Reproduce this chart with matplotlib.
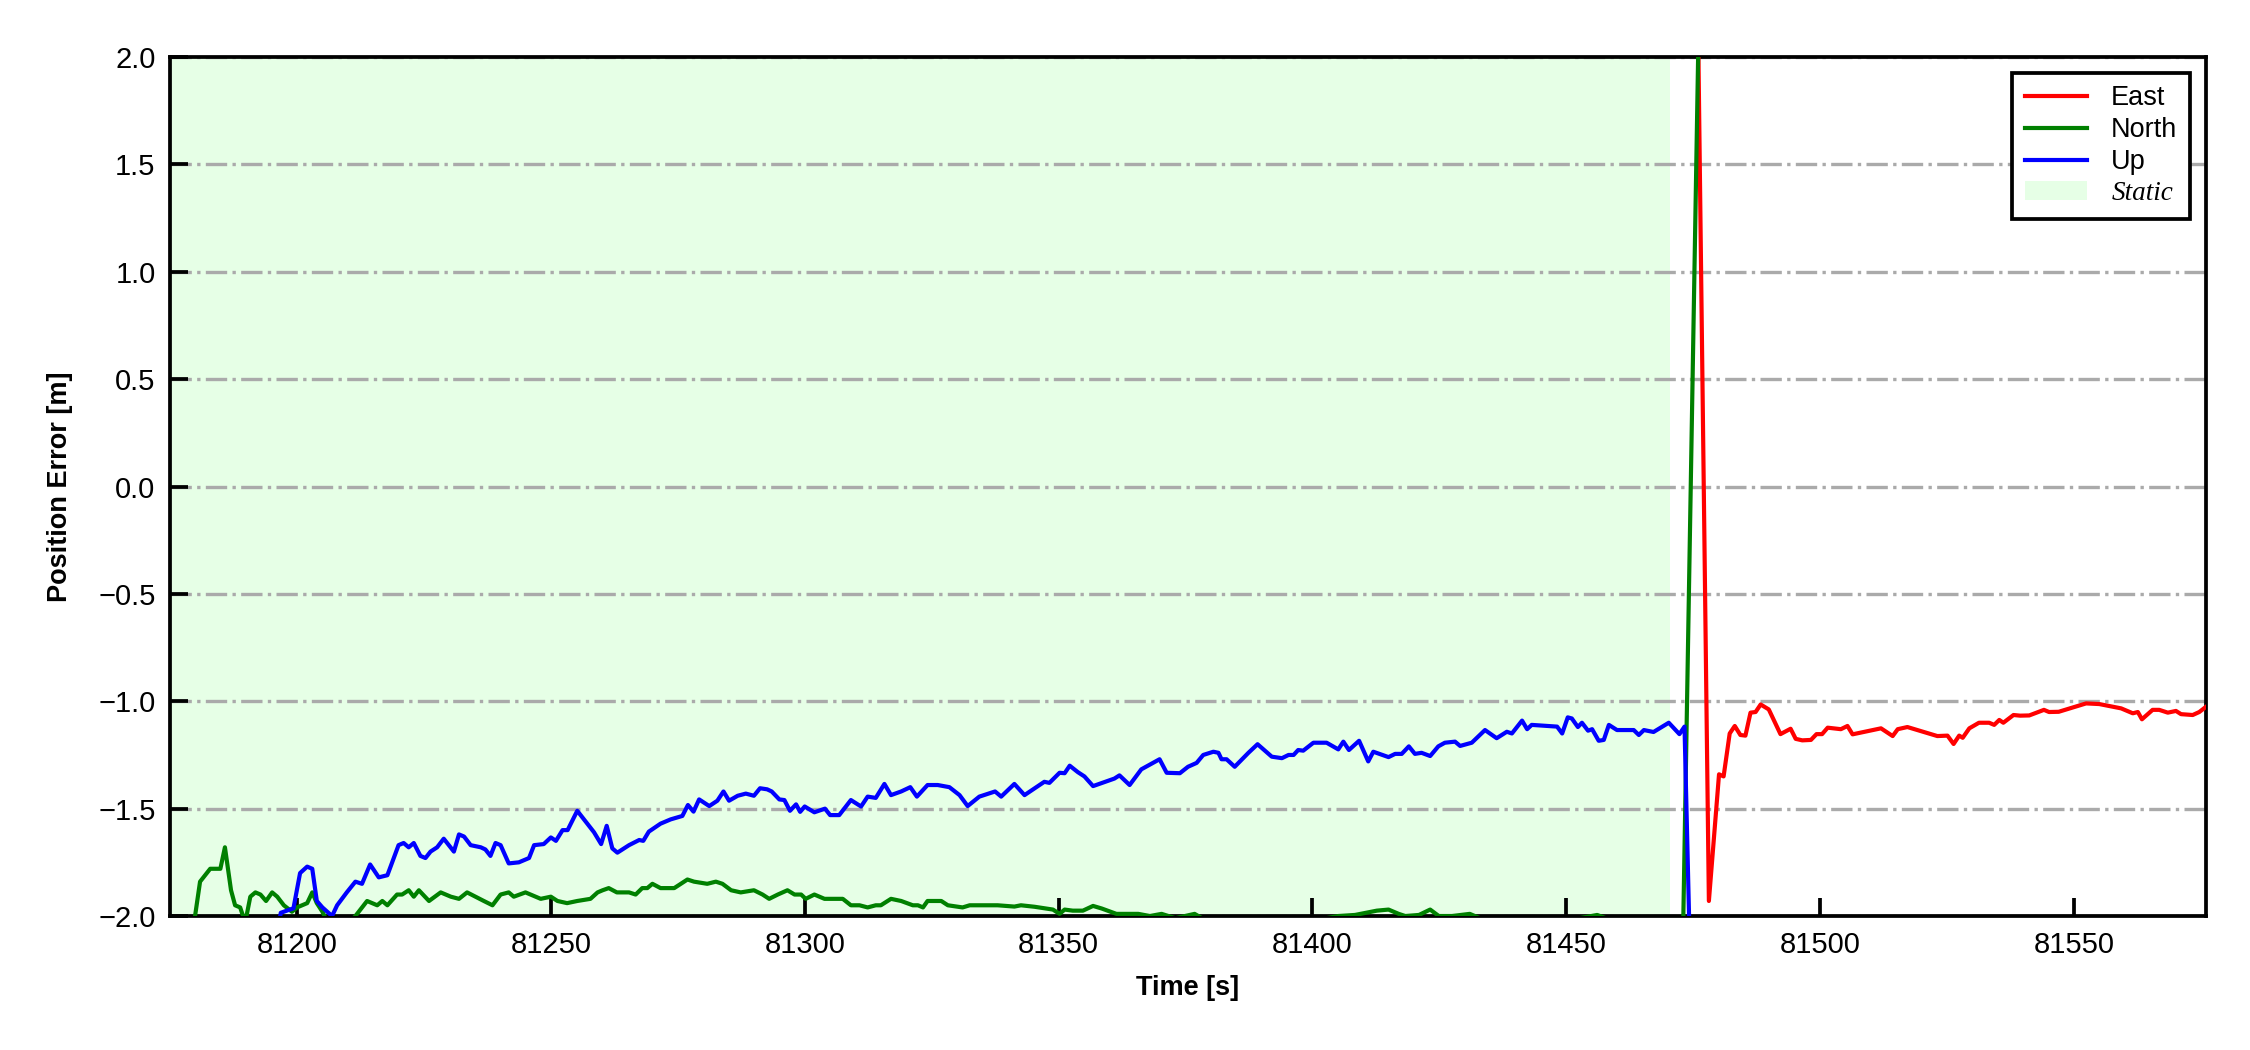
import matplotlib
matplotlib.use("Agg")
import matplotlib.pyplot as plt
from matplotlib.patches import Patch

plt.rcParams['font.family'] = ['Liberation Sans', 'DejaVu Sans']

# ---------------- data ----------------
north_t = [81179.3, 81180.9, 81182.9, 81184.9, 81185.8, 81187.0, 81187.8, 81188.8, 81189.8, 81190.8,
           81191.8, 81192.8, 81193.9, 81195.1, 81196.1, 81197.4, 81199.0, 81200.0, 81202.0, 81203.0,
           81203.9, 81205.0, 81206.0, 81209.0, 81211.5, 81213.8, 81215.8, 81216.8, 81217.8, 81219.7,
           81220.7, 81222.0, 81223.0, 81224.0, 81226.0, 81228.3, 81230.3, 81231.9, 81233.5, 81236.8,
           81238.5, 81240.1, 81241.7, 81242.7, 81245.0, 81248.0, 81250.0, 81251.3, 81253.2, 81255.2,
           81257.8, 81259.2, 81260.2, 81261.4, 81263.0, 81265.4, 81266.7, 81268.0, 81269.0, 81270.0,
           81271.6, 81274.3, 81276.9, 81278.2, 81280.8, 81282.5, 81283.8, 81285.5, 81287.4, 81290.0,
           81291.7, 81293.0, 81294.7, 81296.6, 81298.0, 81299.3, 81300.2, 81301.9, 81303.9, 81306.5,
           81307.5, 81309.1, 81310.8, 81312.4, 81314.0, 81315.0, 81317.0, 81319.0, 81321.3, 81322.3,
           81323.3, 81324.2, 81326.9, 81328.2, 81331.1, 81332.5, 81338.0, 81341.3, 81342.6, 81345.3,
           81348.9, 81350.2, 81351.2, 81352.8, 81354.8, 81356.8, 81358.5, 81361.4, 81363.4, 81365.7,
           81368.0, 81370.3, 81373.0, 81376.8, 81379.0, 81385.0, 81392.0, 81398.0, 81405.1, 81408.4,
           81412.7, 81415.0, 81417.0, 81418.3, 81421.0, 81423.2, 81424.9, 81427.5, 81431.0, 81434.0,
           81440.0, 81448.0, 81456.1, 81460.0, 81466.0, 81471.0, 81473.0, 81477.0]
north_v = [-2.10, -1.84, -1.78, -1.78, -1.68, -1.88, -1.95, -1.96, -2.03, -1.91,
           -1.89, -1.90, -1.93, -1.89, -1.91, -1.95, -1.98, -1.96, -1.94, -1.89,
           -1.94, -1.98, -2.03, -2.06, -2.00, -1.93, -1.95, -1.93, -1.95, -1.90,
           -1.90, -1.88, -1.91, -1.88, -1.93, -1.89, -1.91, -1.92, -1.89, -1.93,
           -1.95, -1.90, -1.89, -1.91, -1.89, -1.92, -1.91, -1.93, -1.94, -1.93,
           -1.92, -1.89, -1.88, -1.87, -1.89, -1.89, -1.90, -1.87, -1.87, -1.85,
           -1.87, -1.87, -1.83, -1.84, -1.85, -1.84, -1.85, -1.88, -1.89, -1.88,
           -1.90, -1.92, -1.90, -1.88, -1.90, -1.90, -1.92, -1.90, -1.92, -1.92,
           -1.92, -1.95, -1.95, -1.96, -1.95, -1.95, -1.92, -1.93, -1.95, -1.95,
           -1.96, -1.93, -1.93, -1.95, -1.96, -1.95, -1.95, -1.956, -1.95, -1.957,
           -1.97, -1.99, -1.97, -1.975, -1.975, -1.953, -1.965, -1.99, -1.99, -1.99,
           -2.00, -1.99, -2.01, -1.99, -2.02, -2.03, -2.02, -2.03, -2.00, -1.995,
           -1.975, -1.97, -1.99, -2.00, -1.995, -1.97, -2.00, -2.00, -1.99, -2.02,
           -2.04, -2.03, -1.995, -2.03, -2.04, -2.05, -2.10, 3.40]

up_t = [81196.0, 81196.8, 81199.3, 81200.6, 81202.0, 81203.0, 81203.9, 81205.0, 81206.9, 81207.9,
        81209.8, 81211.5, 81212.8, 81214.4, 81216.1, 81217.8, 81220.0, 81221.0, 81222.0, 81223.0,
        81224.3, 81225.3, 81226.3, 81227.6, 81228.9, 81230.9, 81231.9, 81232.9, 81234.2, 81236.2,
        81237.1, 81238.1, 81239.1, 81240.1, 81241.7, 81243.7, 81245.7, 81246.7, 81248.6, 81250.0,
        81251.0, 81252.3, 81253.3, 81255.2, 81258.5, 81259.9, 81261.0, 81262.1, 81263.1, 81265.4,
        81267.4, 81268.2, 81269.3, 81271.6, 81273.6, 81275.9, 81277.0, 81278.1, 81279.2, 81281.2,
        81282.8, 81284.0, 81285.1, 81286.8, 81288.4, 81290.0, 81291.2, 81292.6, 81293.5, 81295.0,
        81296.0, 81297.1, 81298.3, 81299.1, 81300.0, 81301.9, 81304.0, 81305.0, 81306.8, 81309.1,
        81311.1, 81312.4, 81314.0, 81315.7, 81317.0, 81319.0, 81320.8, 81322.1, 81324.2, 81326.2,
        81328.5, 81330.5, 81332.1, 81334.4, 81337.5, 81338.7, 81341.3, 81343.3, 81347.2, 81348.2,
        81350.2, 81351.2, 81352.2, 81353.8, 81355.1, 81356.8, 81361.0, 81362.0, 81364.0, 81366.3,
        81369.9, 81371.3, 81373.9, 81375.5, 81377.2, 81378.5, 81380.5, 81381.5, 81382.1, 81383.1,
        81384.7, 81387.4, 81389.2, 81392.0, 81394.0, 81395.3, 81396.3, 81397.2, 81398.2, 81400.2,
        81402.8, 81405.1, 81406.1, 81407.2, 81409.2, 81411.0, 81412.0, 81415.0, 81416.3, 81417.6,
        81419.0, 81420.2, 81421.5, 81423.2, 81424.8, 81426.1, 81428.1, 81429.1, 81431.4, 81434.0,
        81436.3, 81438.3, 81439.3, 81441.3, 81442.3, 81443.2, 81448.2, 81449.2, 81450.3, 81451.1,
        81452.3, 81453.1, 81454.3, 81455.1, 81456.4, 81457.4, 81458.4, 81460.0, 81463.3, 81464.3,
        81465.3, 81467.2, 81470.2, 81472.3, 81473.3, 81474.6]
up_v = [-2.10, -1.985, -1.964, -1.80, -1.77, -1.78, -1.93, -1.96, -2.00, -1.95,
        -1.89, -1.84, -1.85, -1.76, -1.82, -1.81, -1.67, -1.66, -1.68, -1.66,
        -1.72, -1.73, -1.70, -1.68, -1.64, -1.70, -1.62, -1.63, -1.67, -1.68,
        -1.69, -1.72, -1.66, -1.67, -1.755, -1.75, -1.73, -1.67, -1.665, -1.634,
        -1.65, -1.60, -1.60, -1.51, -1.61, -1.665, -1.58, -1.685, -1.705, -1.67,
        -1.646, -1.65, -1.607, -1.57, -1.55, -1.534, -1.483, -1.514, -1.457, -1.488,
        -1.463, -1.42, -1.463, -1.44, -1.43, -1.44, -1.405, -1.41, -1.42, -1.457,
        -1.46, -1.51, -1.48, -1.515, -1.49, -1.517, -1.50, -1.53, -1.53, -1.46,
        -1.49, -1.444, -1.45, -1.385, -1.437, -1.42, -1.40, -1.444, -1.39, -1.39,
        -1.40, -1.437, -1.488, -1.444, -1.42, -1.444, -1.385, -1.437, -1.375, -1.38,
        -1.333, -1.335, -1.30, -1.33, -1.35, -1.395, -1.36, -1.345, -1.39, -1.317,
        -1.27, -1.333, -1.335, -1.305, -1.287, -1.25, -1.235, -1.24, -1.27, -1.27,
        -1.305, -1.24, -1.20, -1.258, -1.265, -1.25, -1.25, -1.227, -1.23, -1.193,
        -1.193, -1.224, -1.188, -1.227, -1.184, -1.28, -1.235, -1.26, -1.245, -1.245,
        -1.21, -1.245, -1.24, -1.255, -1.21, -1.193, -1.188, -1.208, -1.193, -1.134,
        -1.172, -1.142, -1.15, -1.09, -1.13, -1.11, -1.118, -1.15, -1.075, -1.08,
        -1.12, -1.10, -1.137, -1.13, -1.184, -1.18, -1.11, -1.134, -1.134, -1.157,
        -1.134, -1.143, -1.10, -1.153, -1.118, -2.40]

east_t = [81475.0, 81478.1, 81480.1, 81481.0, 81482.2, 81483.2, 81484.3, 81485.3, 81486.3, 81487.3,
          81488.3, 81489.9, 81492.2, 81494.2, 81495.2, 81496.5, 81498.2, 81499.3, 81500.4, 81501.5,
          81504.1, 81505.4, 81506.4, 81512.0, 81514.3, 81515.3, 81517.2, 81523.1, 81525.1, 81526.3,
          81527.4, 81528.1, 81529.4, 81531.3, 81533.3, 81534.3, 81535.3, 81536.1, 81538.1, 81539.4,
          81541.2, 81544.1, 81545.1, 81547.0, 81552.4, 81555.0, 81559.3, 81561.6, 81562.6, 81563.4,
          81565.5, 81566.8, 81568.5, 81570.1, 81571.1, 81573.4, 81574.7, 81576.0]
east_v = [4.00, -1.93, -1.34, -1.35, -1.15, -1.115, -1.157, -1.16, -1.053, -1.05,
          -1.015, -1.038, -1.153, -1.128, -1.175, -1.182, -1.18, -1.153, -1.153, -1.123,
          -1.13, -1.115, -1.154, -1.126, -1.162, -1.13, -1.12, -1.162, -1.16, -1.199,
          -1.16, -1.17, -1.126, -1.10, -1.10, -1.11, -1.087, -1.10, -1.064, -1.067,
          -1.066, -1.04, -1.05, -1.049, -1.01, -1.013, -1.033, -1.056, -1.05, -1.084,
          -1.04, -1.04, -1.053, -1.045, -1.06, -1.064, -1.05, -1.026]

static_span = (81175.0, 81470.5)
x_limits = (81175.0, 81576.0)
y_limits = (-2.0, 2.0)
y_ticks = [-2.0, -1.5, -1.0, -0.5, 0.0, 0.5, 1.0, 1.5, 2.0]
x_ticks = [81200, 81250, 81300, 81350, 81400, 81450, 81500, 81550]

# ---------------- plot ----------------
fig = plt.figure(figsize=(7.5, 3.5), dpi=300)
ax = fig.add_axes([0.0756, 0.1276, 0.9048, 0.8181])

static_color = '#e6ffe6'
ax.axvspan(static_span[0], static_span[1], color=static_color, lw=0, zorder=0)

lw = 1.0
ax.plot(east_t, east_v, color='red', lw=lw, label='East', zorder=3)
ax.plot(north_t, north_v, color='green', lw=lw, label='North', zorder=3)
ax.plot(up_t, up_v, color='blue', lw=lw, label='Up', zorder=3)

ax.set_xlim(*x_limits)
ax.set_ylim(*y_limits)
ax.set_xticks(x_ticks)
ax.set_yticks(y_ticks)
ax.set_yticklabels([f"{v:.1f}".replace('-', '\u2212') for v in y_ticks])
ax.grid(axis='y', linestyle='-.', color='#aaaaaa', lw=0.8, zorder=1)
ax.set_axisbelow(True)

ax.tick_params(direction='in', length=4.3, width=0.9, labelsize=7, top=False, right=False)
for s in ax.spines.values():
    s.set_linewidth(0.9)

ax.set_xlabel('Time [s]', fontsize=6.5, fontweight='bold')
ax.set_ylabel('Position Error [m]', fontsize=6.5, fontweight='bold', labelpad=6)

handles, labels = ax.get_legend_handles_labels()
handles.append(Patch(facecolor=static_color, edgecolor='none'))
labels.append('Static')
leg = ax.legend(handles, labels, loc='upper right', fontsize=6.5, fancybox=False,
                framealpha=1, edgecolor='black', labelspacing=0.22, borderpad=0.45,
                handlelength=2.3, handletextpad=0.9, borderaxespad=0.6)
leg.get_frame().set_linewidth(0.9)
leg.get_texts()[-1].set_fontfamily(['Liberation Serif', 'DejaVu Serif'])
leg.get_texts()[-1].set_fontstyle('italic')

fig.savefig('out.png', dpi=300)
